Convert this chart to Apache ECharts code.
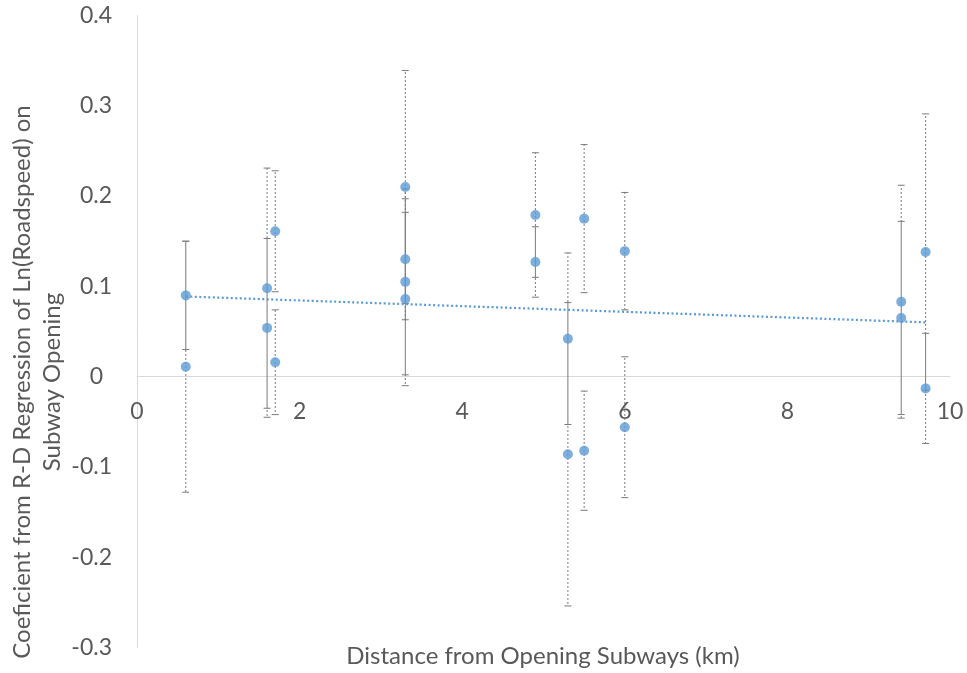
<!DOCTYPE html>
<html>
<head>
<meta charset="utf-8">
<title>Subway opening coefficients by distance</title>
<script src="https://cdn.jsdelivr.net/npm/echarts@6/dist/echarts.min.js"></script>
<style>
  html, body { margin: 0; padding: 0; background: #ffffff; }
  #chart { width: 967px; height: 673px; }
</style>
</head>
<body>
<div id="chart"></div>
<script>
// Distance of each estimate from the opening subway line (km)
const distanceKm = [0.6, 0.6, 1.6, 1.6, 1.7, 1.7, 3.3, 3.3, 3.3, 3.3, 4.9, 4.9,
                    5.3, 5.3, 5.5, 5.5, 6.0, 6.0, 9.4, 9.4, 9.7, 9.7];
// R-D regression coefficient on ln(road speed)
const coefficient = [0.090, 0.011, 0.098, 0.054, 0.161, 0.016, 0.210, 0.130, 0.105, 0.086, 0.179, 0.127,
                     0.042, -0.086, 0.175, -0.082, 0.139, -0.056, 0.083, 0.065, 0.138, -0.013];
// Half-width of each confidence interval
const errorHalfWidth = [0.060, 0.139, 0.133, 0.099, 0.067, 0.058, 0.129, 0.067, 0.103, 0.096, 0.069, 0.039,
                        0.095, 0.168, 0.082, 0.066, 0.065, 0.078, 0.129, 0.107, 0.153, 0.061];

const xTicks = { min: 0, max: 10, interval: 2 };
const yTicks = { min: -0.3, max: 0.4, interval: 0.1 };

const xTitle = 'Distance from Opening Subways (km)';
const yTitle = 'Coeficient from R-D Regression of Ln(Roadspeed) on\nSubway Opening';

const FONT = 'Lato, "Liberation Sans", sans-serif';
const TEXT_COLOR = '#595959';
const MARKER_COLOR = '#5B9BD5';

const W = 967, H = 673;
const GRID = { left: 137, right: 17, top: 15.5, bottom: 25.5 };

// The horizontal axis sits where the value 0 falls on the vertical axis
const gridHeight = H - GRID.top - GRID.bottom;
const zeroFromBottom = gridHeight * (0 - yTicks.min) / (yTicks.max - yTicks.min);

// Ordinary least-squares linear trend through all estimates
function linearFit(xs, ys) {
  const n = xs.length;
  const mx = xs.reduce((a, b) => a + b, 0) / n;
  const my = ys.reduce((a, b) => a + b, 0) / n;
  let sxy = 0, sxx = 0;
  for (let i = 0; i < n; i++) {
    sxy += (xs[i] - mx) * (ys[i] - my);
    sxx += (xs[i] - mx) * (xs[i] - mx);
  }
  const slope = sxy / sxx;
  return { slope: slope, intercept: my - slope * mx };
}
const fit = linearFit(distanceKm, coefficient);
const xLo = Math.min.apply(null, distanceKm);
const xHi = Math.max.apply(null, distanceKm);
const trendData = [
  [xLo, fit.intercept + fit.slope * xLo],
  [xHi, fit.intercept + fit.slope * xHi]
];

// Neighbouring intervals at the same distance get opposite dash phases
const errorData = distanceKm.map((x, i) => [x, coefficient[i], errorHalfWidth[i], i % 2]);
const pointData = distanceKm.map((x, i) => [x, coefficient[i]]);

function renderErrorBar(params, api) {
  const x = api.value(0), y = api.value(1), e = api.value(2), layer = api.value(3);
  const top = api.coord([x, y + e]);
  const bottom = api.coord([x, y - e]);
  const period = 4;
  const offset = ((top[1] % period) + period) % period + layer * 2;
  const capHalf = 3.5;
  const stroke = '#7a7a7a';
  return {
    type: 'group',
    children: [
      {
        type: 'line',
        shape: { x1: top[0], y1: top[1], x2: bottom[0], y2: bottom[1] },
        style: { stroke: stroke, lineWidth: 1, lineDash: [2, 2], lineDashOffset: offset }
      },
      {
        type: 'line',
        shape: { x1: top[0] - capHalf, y1: top[1], x2: top[0] + capHalf, y2: top[1] },
        style: { stroke: stroke, lineWidth: 1 }
      },
      {
        type: 'line',
        shape: { x1: bottom[0] - capHalf, y1: bottom[1], x2: bottom[0] + capHalf, y2: bottom[1] },
        style: { stroke: stroke, lineWidth: 1 }
      }
    ]
  };
}

const chart = echarts.init(document.getElementById('chart'));
chart.setOption({
  animation: false,
  backgroundColor: '#ffffff',
  grid: {
    left: GRID.left, right: GRID.right, top: GRID.top, bottom: GRID.bottom,
    containLabel: false, outerBoundsMode: 'none'
  },
  xAxis: {
    type: 'value',
    position: 'bottom',
    offset: -zeroFromBottom,
    min: xTicks.min, max: xTicks.max, interval: xTicks.interval,
    axisLine: { show: true, onZero: false, lineStyle: { color: '#d9d9d9', width: 1 } },
    axisTick: { show: false },
    splitLine: { show: false },
    axisLabel: { fontFamily: FONT, fontSize: 23, color: TEXT_COLOR, margin: 23 }
  },
  yAxis: {
    type: 'value',
    min: yTicks.min, max: yTicks.max, interval: yTicks.interval,
    axisLine: { show: true, onZero: false, lineStyle: { color: '#d9d9d9', width: 1 } },
    axisTick: { show: false },
    splitLine: { show: false },
    axisLabel: {
      fontFamily: FONT, fontSize: 23, color: TEXT_COLOR, margin: 25,
      formatter: function (v) { return Math.abs(v) < 1e-9 ? '{z|0}' : String(+v.toFixed(1)); },
      rich: { z: { fontFamily: FONT, fontSize: 23, color: TEXT_COLOR, padding: [0, 9, 0, 0] } }
    }
  },
  series: [
    {
      type: 'custom',
      name: 'interval',
      renderItem: renderErrorBar,
      data: errorData,
      encode: { x: 0, y: [1] },
      z: 2,
      silent: true
    },
    {
      type: 'line',
      name: 'trend',
      data: trendData,
      showSymbol: false,
      symbol: 'none',
      lineStyle: { color: MARKER_COLOR, width: 2.25, type: [2, 2.5] },
      z: 3,
      silent: true
    },
    {
      type: 'scatter',
      name: 'coefficient',
      data: pointData,
      symbol: 'circle',
      symbolSize: 10,
      itemStyle: { color: MARKER_COLOR },
      z: 4
    }
  ],
  graphic: [
    {
      type: 'text',
      x: 543, y: 656,
      style: {
        text: xTitle, font: '24px ' + FONT, fill: TEXT_COLOR,
        textAlign: 'center', textVerticalAlign: 'middle'
      }
    },
    {
      type: 'text',
      x: 37, y: 382,
      rotation: Math.PI / 2,
      style: {
        text: yTitle, font: '24px ' + FONT, fill: TEXT_COLOR, lineHeight: 30,
        textAlign: 'center', textVerticalAlign: 'middle'
      }
    }
  ]
});
</script>
</body>
</html>
